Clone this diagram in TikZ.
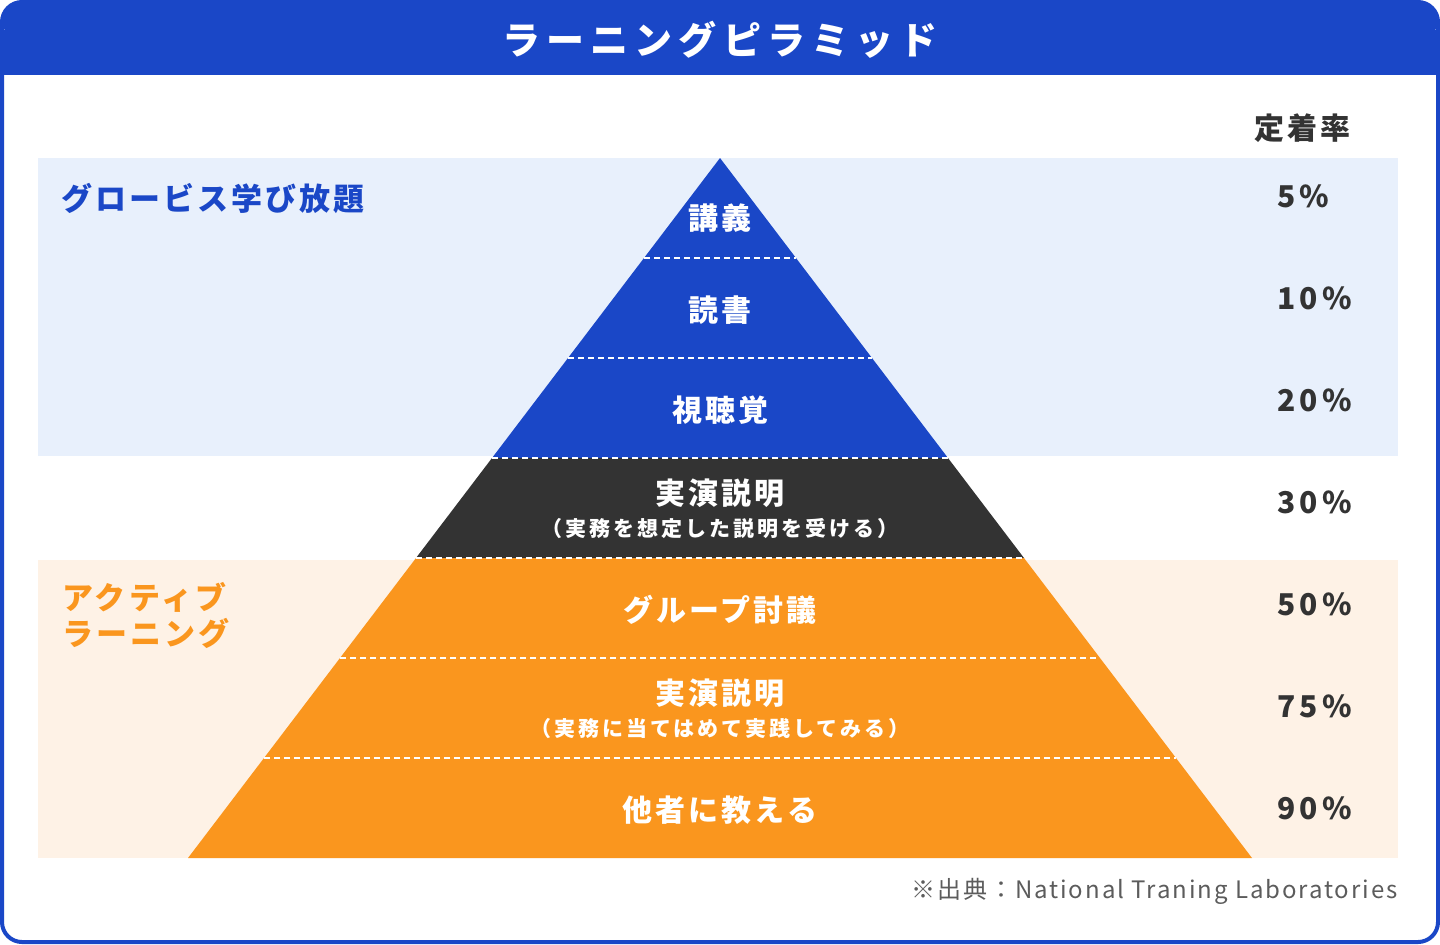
\documentclass[tikz,border=0pt]{standalone}
\usepackage{fontspec}
\setmainfont{Noto Sans CJK JP}
\newfontfamily\spaced{Noto Sans CJK JP}[LetterSpace=16]
\newfontfamily\spacedb{Noto Sans CJK JP}[LetterSpace=10]
\newfontfamily\spacedc{Noto Sans CJK JP}[LetterSpace=14]
\newfontfamily\spacedd{Noto Sans CJK JP}[LetterSpace=8]
\definecolor{hblue}{HTML}{1A47C7}
\definecolor{lblue}{HTML}{E8F0FC}
\definecolor{lorange}{HTML}{FEF2E6}
\definecolor{orng}{HTML}{FA961E}
\definecolor{dark}{HTML}{333333}
\tikzset{lay/.style={text=white,font=\bfseries\spacedb\fontsize{15}{17}\selectfont,align=center},
 sub/.style={text=white,font=\bfseries\spacedc\fontsize{10.5}{12}\selectfont},
 pct/.style={text=dark,font=\bfseries\spacedb\fontsize{15}{17}\selectfont},
 sep/.style={white,densely dashed,line width=0.6pt}}
\begin{document}
\begin{tikzpicture}[x=0.5pt,y=-0.5pt]
\useasboundingbox (0,0) rectangle (1440,944);
\fill[white,rounded corners=10pt] (2,2) rectangle (1438,942);
\fill[hblue,rounded corners=10pt] (2,2) rectangle (1438,40);
\fill[hblue] (2,30) rectangle (1438,75);
\draw[hblue,line width=2pt,rounded corners=10pt] (2,2) rectangle (1438,942);
\node[text=white,font=\bfseries\spaced\fontsize{19}{21}\selectfont] (title) at (720,40) {ラーニングピラミッド};
\fill[lblue] (38,158) rectangle (1398,456);
\fill[lorange] (38,560) rectangle (1398,858);
\fill[hblue] (720,158) -- (948,458) -- (492,458) -- cycle;
\fill[dark] (492,458) -- (948,458) -- (1024,558) -- (416,558) -- cycle;
\fill[orng] (416,558) -- (1024,558) -- (1252,858) -- (188,858) -- cycle;
\foreach \y/\h in {258/76,358/152,458/228,558/304,658/380,758/456}
  \draw[sep] (720-\h,\y) -- (720+\h,\y);
\node[lay] (l1) at (720,218) {講義};
\node[lay] (l2) at (720,310) {読書};
\node[lay] (l3) at (720,410) {視聴覚};
\node[lay] (l4) at (720,493) {実演説明};
\node[sub] (l4s) at (720,529) {（実務を想定した説明を受ける）};
\node[lay] (l5) at (720,610) {グループ討議};
\node[lay] (l6) at (720,693) {実演説明};
\node[sub] (l6s) at (720,729) {（実務に当てはめて実践してみる）};
\node[lay] (l7) at (720,810) {他者に教える};
\node[pct] (h) at (1302,128) {定着率};
\foreach \y/\p [count=\i] in {196/5\%,298/10\%,400/20\%,502/30\%,604/50\%,706/75\%,808/90\%}
  \node[pct,anchor=west,font=\bfseries\spacedc\fontsize{15}{17}\selectfont] (p\i) at (1270,\y) {\p};
\node[anchor=west,text=hblue,font=\bfseries\spacedb\fontsize{15.5}{17}\selectfont] (g) at (54,198) {グロービス学び放題};
\node[anchor=north west,align=left,text=orng,font=\bfseries\spacedb\fontsize{15.5}{18}\selectfont,inner sep=0pt] (a) at (62,582) {アクティブ\\ラーニング};
\node[anchor=east,text=dark!80,font=\spacedd\fontsize{12}{14}\selectfont,inner sep=0pt] (src) at (1398,891) {※出典：National Traning Laboratories};
\end{tikzpicture}
\end{document}
